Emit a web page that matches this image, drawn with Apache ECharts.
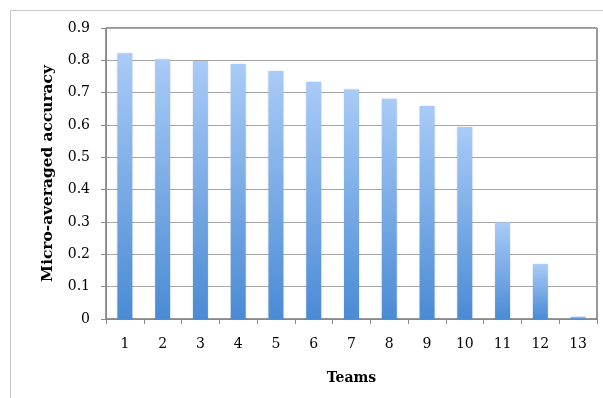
<!DOCTYPE html>
<html lang="en">
<head>
    <meta charset="UTF-8">
    <title>Micro-averaged accuracy by team</title>
    <script src="https://cdn.jsdelivr.net/npm/echarts@6/dist/echarts.min.js"></script>
    <style>
        html, body, #chart {
            width: 603px;
            height: 398px;
            padding: 0;
            margin: 0;
            background: #fff;
        }
    </style>
</head>
<body>
<div id="chart"></div>
<script>
    var teams = ["1", "2", "3", "4", "5", "6", "7", "8", "9", "10", "11", "12", "13"];
    var accuracy = [0.822, 0.803, 0.798, 0.789, 0.767, 0.734, 0.710, 0.681, 0.659, 0.594, 0.299, 0.170, 0.007];
    var yTicks = [0, 0.1, 0.2, 0.3, 0.4, 0.5, 0.6, 0.7, 0.8, 0.9];

    var myChart = echarts.init(document.getElementById("chart"));
    var font = "DejaVu Serif";

    myChart.setOption({
        animation: false,
        graphic: [{
            type: "rect",
            shape: {x: 10.5, y: 10.5, width: 700, height: 500},
            style: {fill: "none", stroke: "#c8c8c8", lineWidth: 1},
            silent: true
        }],
        grid: {
            left: 106,
            right: 6,
            top: 28,
            bottom: 79,
            show: true,
            borderColor: "#333",
            borderWidth: 1
        },
        xAxis: {
            type: "category",
            data: teams,
            name: "Teams",
            nameLocation: "middle",
            nameGap: 52,
            nameTextStyle: {fontFamily: font, fontWeight: "bold", fontSize: 14, color: "#000"},
            axisLine: {lineStyle: {color: "#888"}},
            axisTick: {show: true, length: 5, alignWithLabel: false, lineStyle: {color: "#888"}},
            axisLabel: {fontFamily: font, fontSize: 14, color: "#000", margin: 18}
        },
        yAxis: {
            type: "value",
            min: 0,
            max: 0.9,
            interval: 0.1,
            name: "Micro-averaged accuracy",
            nameLocation: "middle",
            nameGap: 51,
            nameTextStyle: {fontFamily: font, fontWeight: "bold", fontSize: 15.4, color: "#000"},
            axisLine: {show: true, lineStyle: {color: "#888"}},
            axisTick: {show: true, length: 5, lineStyle: {color: "#888"}},
            splitLine: {lineStyle: {color: "#a6a6a6"}},
            axisLabel: {
                fontFamily: font, fontSize: 14, color: "#000", margin: 16,
                formatter: function (v) {
                    var t = yTicks.filter(function (x) { return Math.abs(x - v) < 1e-9; });
                    return t.length ? String(Math.round(t[0] * 10) / 10) : "";
                }
            }
        },
        series: [{
            type: "bar",
            data: accuracy,
            barWidth: 15,
            itemStyle: {
                color: new echarts.graphic.LinearGradient(0, 0, 0, 1, [
                    {offset: 0, color: "#a9cbf7"},
                    {offset: 1, color: "#4a8bd5"}
                ]),
                shadowColor: "rgba(0,0,0,0.12)",
                shadowBlur: 2
            }
        }]
    });
</script>
</body>
</html>
